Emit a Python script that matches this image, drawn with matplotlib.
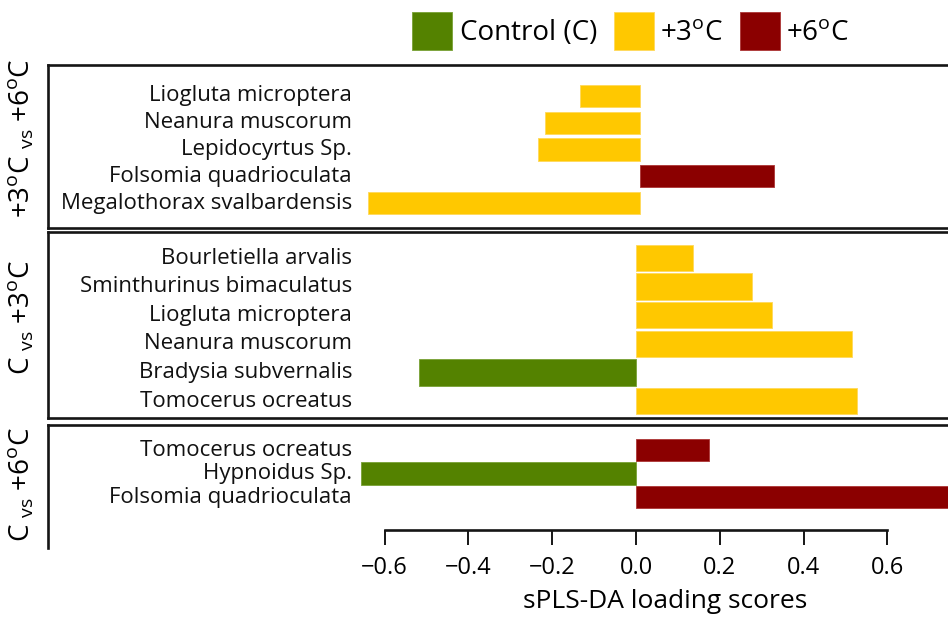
import matplotlib
matplotlib.use("Agg")
import matplotlib.pyplot as plt
from matplotlib.patches import Rectangle

plt.rcParams['font.family'] = ['Open Sans', 'DejaVu Sans']
plt.rcParams['mathtext.fontset'] = 'custom'
plt.rcParams['mathtext.rm'] = 'Open Sans'
plt.rcParams['mathtext.it'] = 'Open Sans:italic'
plt.rcParams['mathtext.bf'] = 'Open Sans:bold'

# data
p1_species = ["Liogluta microptera", "Neanura muscorum", "Lepidocyrtus Sp.",
              "Folsomia quadrioculata", "Megalothorax svalbardensis"]
p1_scores = [-0.143, -0.227, -0.243, 0.321, -0.650]
p1_groups = ["+3", "+3", "+3", "+6", "+3"]

p2_species = ["Bourletiella arvalis", "Sminthurinus bimaculatus", "Liogluta microptera",
              "Neanura muscorum", "Bradysia subvernalis", "Tomocerus ocreatus"]
p2_scores = [0.137, 0.277, 0.325, 0.516, -0.518, 0.528]
p2_groups = ["+3", "+3", "+3", "+3", "C", "+3"]

p3_species = ["Tomocerus ocreatus", "Hypnoidus Sp.", "Folsomia quadrioculata"]
p3_scores = [0.175, -0.657, 0.78]
p3_groups = ["+6", "C", "+6"]

x_ticks = [-0.6, -0.4, -0.2, 0.0, 0.2, 0.4, 0.6]
x_ticklabels = ["\u22120.6", "\u22120.4", "\u22120.2", "0.0", "0.2", "0.4", "0.6"]

colors = {"C": "#548200", "+3": "#FFC800", "+6": "#8B0000"}
edges = {"C": "#7FA640", "+3": "#FFDA60", "+6": "#B04040"}

W, H = 948, 619
fig = plt.figure(figsize=(W / 100, H / 100), dpi=100)


def fx(x):
    return x / W


def fy(y):
    return 1 - y / H


scale = 419.0  # px per unit
left_px, right_px = 48, 960
spine_c = "#151515"
spine_w = 1.9


def panel(species, scores, groups, top, bottom, first_row, step, zero_px, height):
    ax = fig.add_axes([fx(left_px), fy(bottom), (right_px - left_px) / W, (bottom - top) / H])
    ypos = list(range(len(species)))
    ax.barh(ypos, scores, height=height,
            color=[colors[g] for g in groups],
            edgecolor=[edges[g] for g in groups], linewidth=0.7)
    ax.set_xlim((left_px - zero_px) / scale, (right_px - zero_px) / scale)
    ax.set_ylim((bottom - first_row) / step, -(first_row - top) / step)
    label_x = (352 - zero_px) / scale
    for y, s in zip(ypos, species):
        ax.text(label_x, y, s, ha="right", va="center", fontsize=16, color="#111111")
    ax.set_yticks([])
    for sp in ax.spines.values():
        sp.set_color(spine_c)
        sp.set_linewidth(spine_w)
    return ax


ax1 = panel(p1_species, p1_scores, p1_groups, 65, 228, 96, 26.75, 640, 0.84)
ax1.set_xticks([])
ax2 = panel(p2_species, p2_scores, p2_groups, 232, 418, 258, 28.6, 636, 0.92)
ax2.set_xticks([])
ax3 = panel(p3_species, p3_scores, p3_groups, 425, 548, 450, 23.5, 636, 0.94)
ax3.spines["bottom"].set_position(("data", (530 - 450) / 23.5))
ax3.spines["bottom"].set_bounds(-0.6, 0.6)
ax3.set_xticks(x_ticks)
ax3.set_xticklabels(x_ticklabels, fontsize=17)
ax3.tick_params(axis="x", direction="out", length=10.5, width=1.4, pad=8, color=spine_c)
fig.text(fx(665), fy(601), "sPLS-DA loading scores", ha="center", va="center", fontsize=19)

# panel titles on the left
deg = "$^{\\mathrm{o}}$C"
vs = " ${}_{\\mathrm{vs}}$ "
fig.text(fx(22), fy(138), "+3" + deg + vs + "+6" + deg, rotation=90, ha="center", va="center", fontsize=20)
fig.text(fx(22), fy(318), "C" + vs + "+3" + deg, rotation=90, ha="center", va="center", fontsize=20)
fig.text(fx(22), fy(485), "C" + vs + "+6" + deg, rotation=90, ha="center", va="center", fontsize=20)

# legend
legend_items = [("C", "Control (C)", 412, 460), ("+3", "+3" + deg, 614, 660), ("+6", "+6" + deg, 740, 786)]
for g, lab, x0, tx in legend_items:
    fig.add_artist(Rectangle((fx(x0), fy(50)), 40 / W, 38 / H, transform=fig.transFigure,
                             facecolor=colors[g], edgecolor=edges[g], linewidth=0.7))
    fig.text(fx(tx), fy(33), lab, ha="left", va="center", fontsize=20)

fig.savefig("out.png", dpi=100)
